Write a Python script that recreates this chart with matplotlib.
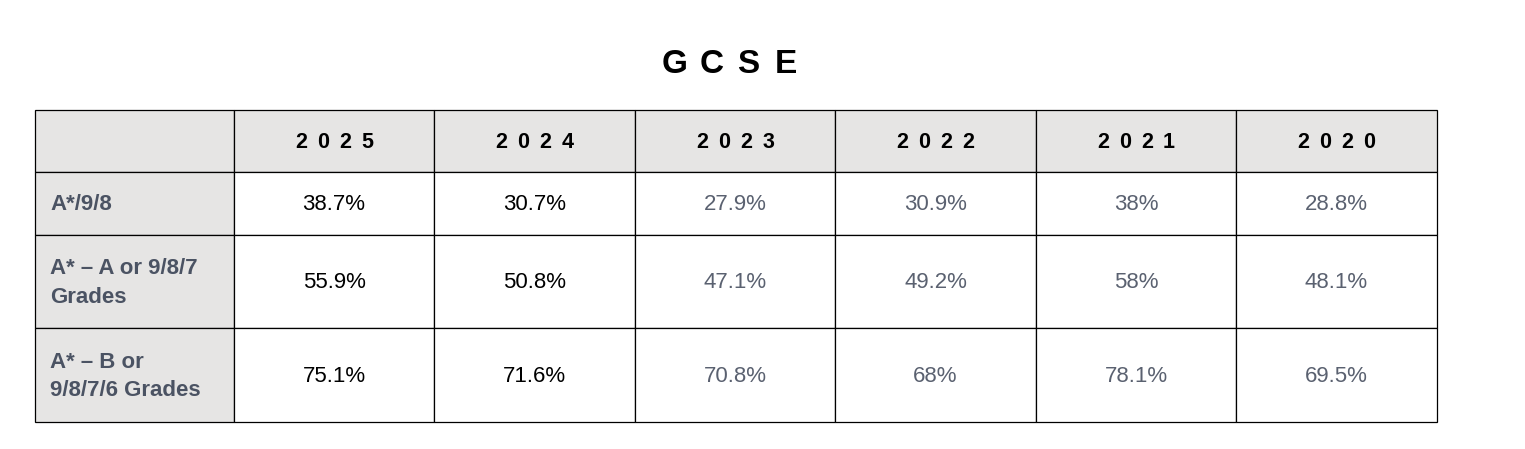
import matplotlib
matplotlib.use('Agg')
import matplotlib.pyplot as plt
from matplotlib.patches import Rectangle

title = 'GCSE'
years = ['2025', '2024', '2023', '2022', '2021', '2020']
row_labels = ['A*/9/8', 'A* \u2013 A or 9/8/7\nGrades', 'A* \u2013 B or\n9/8/7/6 Grades']
grade_988 = ['38.7%', '30.7%', '27.9%', '30.9%', '38%', '28.8%']
grade_987 = ['55.9%', '50.8%', '47.1%', '49.2%', '58%', '48.1%']
grade_9876 = ['75.1%', '71.6%', '70.8%', '68%', '78.1%', '69.5%']
values = [grade_988, grade_987, grade_9876]
# the two newest years are shown in black, the others greyed out
dark_years = ['2025', '2024']

plt.rcParams['font.family'] = ['Liberation Sans', 'DejaVu Sans']

W, H = 1525, 449
fig = plt.figure(figsize=(W / 100, H / 100), dpi=100)
ax = fig.add_axes([0, 0, 1, 1])
ax.set_xlim(0, W)
ax.set_ylim(H, 0)
ax.axis('off')

col_edges = [35, 234, 434, 635, 835, 1036, 1236, 1437]
row_edges = [110, 172, 235, 328, 422]
head_bg = '#e6e5e4'
label_col = '#4b5363'
grey_txt = '#5a6170'
lw = 0.9
dy = 1.5  # nudge text down a touch


def spaced_text(xc, y, s, pitch, **kw):
    # letter-spaced text: one glyph per position
    start = xc - pitch * (len(s) - 1) / 2
    for i, ch in enumerate(s):
        ax.text(start + i * pitch, y, ch, ha='center', va='center', **kw)


spaced_text(730, 64.5, title, 37, fontsize=24, fontweight='bold', color='black')

# header row
for c in range(len(col_edges) - 1):
    x0, x1 = col_edges[c], col_edges[c + 1]
    y0, y1 = row_edges[0], row_edges[1]
    ax.add_patch(Rectangle((x0, y0), x1 - x0, y1 - y0, facecolor=head_bg,
                           edgecolor='black', linewidth=lw))
    if c > 0:
        spaced_text((x0 + x1) / 2, (y0 + y1) / 2 + dy, years[c - 1], 22,
                    fontsize=15.5, fontweight='bold', color='black')

# body rows
for r, lab in enumerate(row_labels):
    y0, y1 = row_edges[r + 1], row_edges[r + 2]
    ym = (y0 + y1) / 2 + dy
    for c in range(len(col_edges) - 1):
        x0, x1 = col_edges[c], col_edges[c + 1]
        fc = head_bg if c == 0 else 'white'
        ax.add_patch(Rectangle((x0, y0), x1 - x0, y1 - y0, facecolor=fc,
                               edgecolor='black', linewidth=lw))
        if c == 0:
            ax.text(x0 + 15, ym, lab, ha='left', va='center', fontsize=16,
                    fontweight='bold', color=label_col, linespacing=1.5)
        else:
            yr = years[c - 1]
            colr = 'black' if yr in dark_years else grey_txt
            ax.text((x0 + x1) / 2, ym, values[r][c - 1], ha='center', va='center',
                    fontsize=16, color=colr)

fig.savefig('out.png', dpi=100)
plt.close(fig)
